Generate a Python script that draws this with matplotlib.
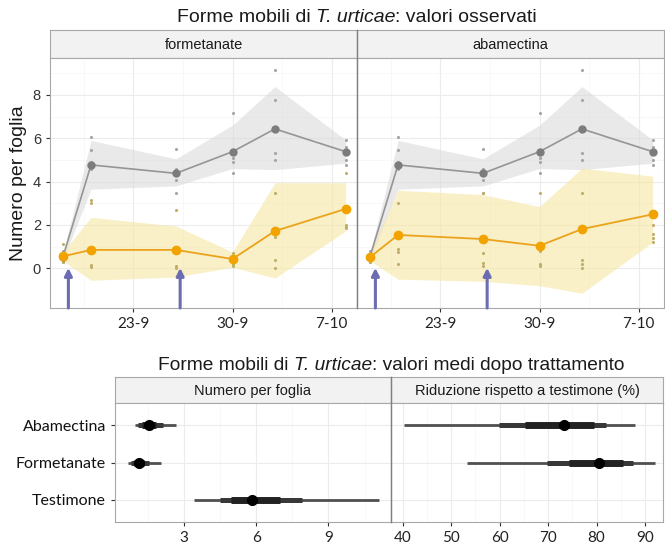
import matplotlib
matplotlib.use('Agg')
import matplotlib.pyplot as plt
from matplotlib.lines import Line2D

# ---------------- data ----------------
# x positions: days relative to 23-9
days = [-5, -3, 3, 7, 10, 15]
x_ticks = [0, 7, 14]
x_ticklabels = ['23-9', '30-9', '7-10']
treat_days = [-4.6, 3.3]

ctrl_mean = [0.50, 4.77, 4.38, 5.38, 6.43, 5.38]
ctrl_lo = [0.35, 3.65, 3.80, 4.60, 4.55, 4.85]
ctrl_hi = [0.65, 5.90, 5.05, 6.60, 8.38, 5.92]

form_mean = [0.55, 0.85, 0.85, 0.43, 1.72, 2.74]
form_lo = [0.35, -0.55, -0.40, 0.05, -0.45, 1.72]
form_hi = [0.75, 2.35, 1.95, 0.75, 3.95, 3.95]

abam_mean = [0.50, 1.54, 1.35, 1.04, 1.81, 2.49]
abam_lo = [0.35, -0.50, -0.60, -0.80, -1.15, 1.20]
abam_hi = [0.65, 3.60, 3.40, 2.85, 4.62, 4.25]

# raw observations (4 per date)
ctrl_obs = [[0.3, 0.4, 0.5, 0.8], [6.05, 5.45, 4.9, 4.6], [5.5, 4.6, 4.08, 3.46],
            [7.16, 5.1, 4.92, 4.4], [9.15, 7.77, 5.32, 5.0], [5.92, 5.6, 5.0, 4.77]]
form_obs = [[1.12, 0.6, 0.45, 0.3], [3.15, 3.0, 0.15, 0.05], [2.69, 0.9, 0.1, 0.0],
            [0.7, 0.4, 0.2, 0.1], [3.47, 1.46, 0.38, 0.0], [4.4, 2.0, 1.92, 1.85]]
abam_obs = [[0.4, 0.5, 0.6, 0.3], [3.0, 0.9, 0.75, 0.2], [3.46, 0.7, 0.25, 0.1],
            [3.47, 0.8, 0.2, 0.1], [3.47, 0.38, 0.2, 0.0], [2.0, 1.6, 1.4, 1.2]]

facet_names = ['formetanate', 'abamectina']

# bottom chart
cats = ['Testimone', 'Formetanate', 'Abamectina']
count_mid = [5.82, 1.12, 1.54]
count_thin_lo = [3.39, 0.65, 0.96]
count_thin_hi = [11.10, 2.04, 2.65]
count_med_lo = [4.50, 0.80, 1.10]
count_med_hi = [7.90, 1.55, 2.10]
count_thick_lo = [4.95, 0.90, 1.25]
count_thick_hi = [7.00, 1.35, 1.85]

red_cats = ['Formetanate', 'Abamectina']
red_mid = [80.5, 73.3]
red_thin_lo = [53.3, 40.35]
red_thin_hi = [92.1, 87.9]
red_med_lo = [69.7, 59.9]
red_med_hi = [87.6, 82.0]
red_thick_lo = [74.4, 65.3]
red_thick_hi = [85.4, 79.4]

# ---------------- styling ----------------
W, H = 665, 547
fig = plt.figure(figsize=(W / 100, H / 100), dpi=100)
TITLE_FONT = ['Liberation Sans', 'DejaVu Sans']
TICK_FONT = ['Lato', 'DejaVu Sans']
GRID = '#ececec'
BORDER = '#a8a8a8'


def add_ax(x0, y0, x1, y1):
    return fig.add_axes([x0 / W, 1 - y1 / H, (x1 - x0) / W, (y1 - y0) / H])


def strip(x0, y0, x1, y1, label, fs):
    s = add_ax(x0, y0, x1, y1)
    s.set_facecolor('#f2f2f2')
    s.set_xticks([]); s.set_yticks([])
    for sp in s.spines.values():
        sp.set_color(BORDER); sp.set_linewidth(0.8)
    s.text(0.5, 0.45, label, ha='center', va='center', fontsize=fs,
           family=TITLE_FONT, color='#1a1a1a', transform=s.transAxes)
    return s


def style_panel(ax):
    ax.set_facecolor('white')
    for sp in ax.spines.values():
        sp.set_color(BORDER); sp.set_linewidth(0.8)
    ax.grid(True, which='major', color=GRID, lw=0.8, zorder=0)
    ax.grid(True, which='minor', color='#f5f5f5', lw=0.5, zorder=0)
    ax.set_axisbelow(True)
    ax.tick_params(axis='both', which='major', direction='out', length=3,
                   width=0.8, color='#333333')
    ax.tick_params(axis='both', which='minor', length=0)


def rich_title(parts, xc, y, fs):
    renderer = fig.canvas.get_renderer()
    texts = []
    for s, style in parts:
        t = fig.text(0, 1 - y / H, s, fontsize=fs, style=style, family=TITLE_FONT,
                     va='center', ha='left', color='#1a1a1a')
        texts.append(t)
    widths = [t.get_window_extent(renderer).width for t in texts]
    total = sum(widths)
    x = xc - total / 2
    for t, w in zip(texts, widths):
        t.set_x(x / W)
        x += w


# ---------------- top chart ----------------
rich_title([('Forme mobili di ', 'normal'), ('T. urticae', 'italic'),
            (': valori osservati', 'normal')], 357, 17, 14)

panels = [(50, 357, form_mean, form_lo, form_hi, form_obs),
          (357, 664, abam_mean, abam_lo, abam_hi, abam_obs)]
for i, (x0, x1, tm, tl, th, tobs) in enumerate(panels):
    strip(x0, 30, x1, 58, facet_names[i], 10.5)
    ax = add_ax(x0, 58, x1, 308)
    style_panel(ax)
    ax.set_xlim(-5.9, 15.8)
    ax.set_ylim(-1.83, 9.70)
    ax.set_xticks(x_ticks)
    ax.set_xticks([-3.5, 3.5, 10.5], minor=True)
    ax.set_yticks([0, 2, 4, 6, 8])
    ax.set_yticks([1, 3, 5, 7, 9], minor=True)
    ax.set_xticklabels(x_ticklabels, fontsize=11, family=TICK_FONT, color='#222222')
    if i == 0:
        ax.set_yticklabels(['0', '2', '4', '6', '8'], fontsize=10.5,
                           family=['Liberation Sans'], color='#333333')
        ax.set_ylabel('Numero per foglia', fontsize=14, family=['Liberation Sans'],
                      color='#1a1a1a', labelpad=4)
    else:
        ax.tick_params(axis='y', which='both', left=False, labelleft=False)

    ax.fill_between(days, ctrl_lo, ctrl_hi, color='#d8d8d8', alpha=0.55, lw=0, zorder=1)
    ax.fill_between(days, tl, th, color='#f6e7a2', alpha=0.6, lw=0, zorder=1)

    for d, obs in zip(days, ctrl_obs):
        ax.scatter([d] * len(obs), obs, s=5, color='#a5a5a5', lw=0, zorder=2)
    for d, obs in zip(days, tobs):
        ax.scatter([d] * len(obs), obs, s=5, color='#bfae6a', lw=0, zorder=2)

    ax.plot(days, ctrl_mean, color='#959595', lw=1.2, marker='o', ms=5,
            mfc='#7c7c7c', mec='#7c7c7c', zorder=3)
    ax.plot(days, tm, color='#eba31b', lw=1.3, marker='o', ms=6,
            mfc='#f2a300', mec='#f2a300', zorder=4)

    for td in treat_days:
        ax.annotate('', xy=(td, 0.02), xytext=(td, -1.83),
                    arrowprops=dict(arrowstyle='-|>', color='#6c6cb3', lw=2.2,
                                    mutation_scale=11, shrinkA=0, shrinkB=0),
                    zorder=5)

# separator line between facets
fig.add_artist(Line2D([357 / W, 357 / W], [1 - 30 / H, 1 - 308 / H], color='#808080', lw=1.0))

# ---------------- bottom chart ----------------
rich_title([('Forme mobili di ', 'normal'), ('T. urticae', 'italic'),
            (': valori medi dopo trattamento', 'normal')], 391, 365, 13.8)

strip(115, 377, 391, 403, 'Numero per foglia', 10.5)
strip(391, 377, 663, 403, 'Riduzione rispetto a testimone (%)', 10.5)

axL = add_ax(115, 403, 391, 522)
axR = add_ax(391, 403, 663, 522)
for ax in (axL, axR):
    style_panel(ax)
    ax.set_ylim(0.4, 3.6)
    ax.set_yticks([1, 2, 3])

axL.set_xlim(0.125, 11.6)
axL.set_xticks([3, 6, 9])
axL.set_xticks([1.5, 4.5, 7.5, 10.5], minor=True)
axL.set_xticklabels(['3', '6', '9'], fontsize=11, family=TICK_FONT, color='#222222')
axL.set_yticklabels(cats, fontsize=11.5, family=TICK_FONT, color='#111111')

axR.set_xlim(37.6, 93.7)
axR.set_xticks([40, 50, 60, 70, 80, 90])
axR.set_xticks([45, 55, 65, 75, 85], minor=True)
axR.set_xticklabels(['40', '50', '60', '70', '80', '90'], fontsize=11,
                    family=TICK_FONT, color='#222222')
axR.tick_params(axis='y', which='both', left=False, labelleft=False)

ypos = {c: i + 1 for i, c in enumerate(cats)}


def intervals(ax, names, mid, tlo, thi, mlo, mhi, klo, khi):
    for j, n in enumerate(names):
        y = ypos[n]
        ax.plot([tlo[j], thi[j]], [y, y], color='#505050', lw=2.0,
                solid_capstyle='butt', zorder=3)
        ax.plot([mlo[j], mhi[j]], [y, y], color='#383838', lw=3.6,
                solid_capstyle='butt', zorder=4)
        ax.plot([klo[j], khi[j]], [y, y], color='#222222', lw=5.0,
                solid_capstyle='butt', zorder=5)
        ax.plot([mid[j]], [y], 'o', color='black', ms=7, zorder=6)


intervals(axL, cats, count_mid, count_thin_lo, count_thin_hi, count_med_lo,
          count_med_hi, count_thick_lo, count_thick_hi)
intervals(axR, red_cats, red_mid, red_thin_lo, red_thin_hi, red_med_lo,
          red_med_hi, red_thick_lo, red_thick_hi)

fig.add_artist(Line2D([391 / W, 391 / W], [1 - 377 / H, 1 - 522 / H], color='#808080', lw=1.0))

fig.savefig('out.png', dpi=100)
